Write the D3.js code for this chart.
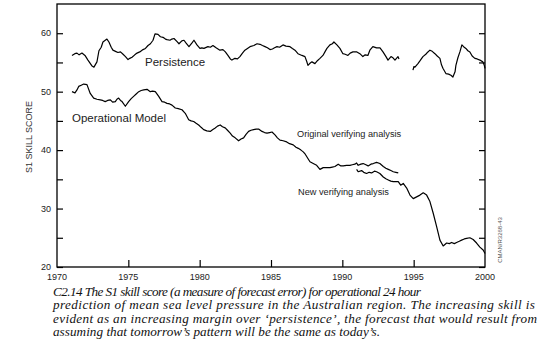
<!DOCTYPE html>
<html><head><meta charset="utf-8">
<script src="https://cdn.jsdelivr.net/npm/d3@7"></script>
<style>
html,body{margin:0;padding:0;background:#fff;}
svg{display:block;}
</style></head>
<body>
<script>
// ---------- data ----------
const xTickYears = [1970, 1975, 1980, 1985, 1990, 1995, 2000];
const yTickLabels = [20, 30, 40, 50, 60];
const yTickAll = [20, 25, 30, 35, 40, 45, 50, 55, 60];

const persistenceA = [
[1971.05,56.2],[1971.25,56.5],[1971.40,56.6],[1971.55,56.3],[1971.75,56.6],[1971.96,56.2],[1972.17,55.4],[1972.45,54.4],[1972.59,54.2],[1972.80,55.1],[1972.94,57.0],[1973.10,57.6],[1973.22,58.5],[1973.50,59.0],[1973.64,58.5],[1973.80,57.6],[1973.92,57.1],[1974.10,56.9],[1974.27,56.7],[1974.45,56.8],[1974.63,56.4],[1974.80,56.0],[1974.98,55.5],[1975.10,55.7],[1975.26,55.9],[1975.45,56.3],[1975.61,56.6],[1975.80,56.8],[1976.03,57.2],[1976.20,57.4],[1976.38,57.9],[1976.55,58.2],[1976.73,58.8],[1976.87,59.9],[1977.08,59.8],[1977.25,59.4],[1977.43,59.3],[1977.60,59.0],[1977.71,58.9],[1977.92,58.8],[1978.05,59.0],[1978.20,59.1],[1978.40,58.6],[1978.55,58.2],[1978.75,58.7],[1978.90,58.8],[1979.05,58.3],[1979.25,57.7],[1979.45,58.3],[1979.60,58.8],[1979.81,58.0],[1980.02,57.4],[1980.15,57.5],[1980.30,57.4],[1980.58,57.7],[1980.75,57.6],[1980.93,57.9],[1981.15,57.5],[1981.42,57.1],[1981.63,57.2],[1981.80,56.8],[1981.98,56.2],[1982.15,55.6],[1982.26,55.4],[1982.47,55.7],[1982.65,55.6],[1982.82,56.0],[1983.00,56.6],[1983.17,57.1],[1983.35,57.4],[1983.53,57.7],[1983.80,57.9],[1984.02,58.2],[1984.23,58.1],[1984.40,57.9],[1984.58,57.7],[1984.75,57.5],[1984.93,57.2],[1985.10,57.3],[1985.25,57.5],[1985.42,57.7],[1985.60,57.6],[1985.84,58.0],[1986.05,57.8],[1986.33,57.7],[1986.50,57.4],[1986.68,57.1],[1986.89,56.5],[1987.17,56.2],[1987.38,56.0],[1987.50,55.2],[1987.59,54.5],[1987.75,54.9],[1987.87,55.1],[1988.08,54.8],[1988.25,55.3],[1988.43,55.7],[1988.64,56.2],[1988.80,56.9],[1988.92,57.4],[1989.13,58.0],[1989.30,58.2],[1989.41,58.5],[1989.62,58.0],[1989.83,57.4],[1990.04,56.5],[1990.20,56.4],[1990.39,56.2],[1990.55,56.6],[1990.74,56.8],[1991.02,56.8],[1991.23,56.5],[1991.44,56.0],[1991.60,56.3],[1991.79,56.2],[1991.93,57.1],[1992.14,57.7],[1992.40,57.5],[1992.64,57.5],[1992.85,56.8],[1993.06,56.0],[1993.20,55.4],[1993.41,56.0],[1993.55,55.8],[1993.69,55.4],[1993.90,56.0],[1993.97,55.6]
];
const persistenceB = [
[1994.95,53.7],[1995.02,54.3],[1995.09,54.2],[1995.30,54.8],[1995.45,55.3],[1995.65,56.0],[1995.85,56.4],[1996.00,56.8],[1996.14,57.1],[1996.30,56.9],[1996.49,56.5],[1996.65,56.1],[1996.84,55.7],[1996.95,54.6],[1997.05,54.0],[1997.26,53.1],[1997.45,53.0],[1997.61,52.8],[1997.75,52.5],[1997.90,53.4],[1997.96,54.5],[1998.10,55.8],[1998.24,56.8],[1998.38,58.0],[1998.50,57.7],[1998.66,57.4],[1998.80,57.0],[1998.94,56.8],[1999.10,56.1],[1999.29,55.7],[1999.45,55.6],[1999.64,55.4],[1999.85,55.1],[1999.95,54.5],[2000.00,54.0]
];
const modelOriginal = [
[1971.05,50.0],[1971.26,49.8],[1971.40,50.3],[1971.52,50.9],[1971.70,51.1],[1971.87,51.3],[1972.10,51.2],[1972.33,49.7],[1972.57,48.9],[1972.80,48.7],[1973.03,48.6],[1973.20,48.5],[1973.38,48.3],[1973.55,48.5],[1973.74,48.6],[1973.90,48.2],[1974.09,48.3],[1974.20,48.7],[1974.32,48.9],[1974.45,48.5],[1974.56,48.3],[1974.79,47.5],[1975.02,48.3],[1975.20,48.8],[1975.37,49.2],[1975.55,49.6],[1975.73,50.0],[1975.90,50.2],[1976.08,50.3],[1976.31,50.4],[1976.54,50.0],[1976.70,50.1],[1976.89,50.0],[1977.13,49.2],[1977.36,48.3],[1977.55,48.2],[1977.71,48.0],[1977.90,47.9],[1978.06,47.7],[1978.29,47.2],[1978.50,47.1],[1978.76,46.9],[1978.99,46.3],[1979.23,45.2],[1979.40,45.0],[1979.58,44.9],[1979.75,44.6],[1979.93,44.3],[1980.10,43.9],[1980.28,43.5],[1980.50,43.3],[1980.74,43.2],[1980.90,43.5],[1981.09,43.8],[1981.25,44.1],[1981.44,44.3],[1981.60,44.0],[1981.79,43.8],[1981.95,43.4],[1982.14,42.9],[1982.30,42.4],[1982.49,42.1],[1982.73,41.6],[1982.90,41.9],[1983.08,42.1],[1983.25,42.7],[1983.43,43.2],[1983.60,43.4],[1983.78,43.5],[1983.95,43.6],[1984.13,43.6],[1984.37,43.2],[1984.55,43.0],[1984.72,42.9],[1984.90,43.0],[1985.07,43.1],[1985.28,42.6],[1985.45,42.1],[1985.63,41.7],[1985.85,41.6],[1986.10,41.4],[1986.30,41.1],[1986.56,40.9],[1986.75,40.5],[1986.91,40.3],[1987.10,40.0],[1987.26,39.7],[1987.40,39.3],[1987.50,38.9],[1987.73,38.0],[1987.96,37.7],[1988.20,37.4],[1988.43,36.7],[1988.66,37.0],[1988.90,37.0],[1989.13,37.0],[1989.30,37.1],[1989.48,37.2],[1989.71,37.6],[1989.90,37.3],[1990.06,37.3],[1990.30,37.4],[1990.53,37.4],[1990.70,37.5],[1990.88,37.6],[1991.00,37.8],[1991.11,37.4],[1991.30,37.6],[1991.46,37.7],[1991.65,37.5],[1991.81,37.3],[1992.00,37.6],[1992.17,37.7],[1992.40,37.9],[1992.63,37.7],[1992.87,37.2],[1993.05,36.9],[1993.22,36.7],[1993.40,36.5],[1993.57,36.3],[1993.75,36.2],[1993.92,36.1]
];
const modelNew = [
[1991.00,36.7],[1991.11,36.3],[1991.35,36.5],[1991.50,36.2],[1991.70,36.0],[1991.88,36.2],[1992.05,36.1],[1992.25,36.4],[1992.40,36.3],[1992.63,36.0],[1992.87,35.4],[1993.05,35.1],[1993.22,34.9],[1993.40,34.7],[1993.57,34.6],[1993.75,34.6],[1993.92,34.6],[1994.09,34.0],[1994.27,34.3],[1994.51,33.5],[1994.74,32.3],[1994.97,31.7],[1995.21,32.0],[1995.44,32.3],[1995.67,32.7],[1995.91,32.3],[1996.14,31.2],[1996.37,29.2],[1996.61,26.9],[1996.84,24.6],[1997.07,23.6],[1997.31,24.1],[1997.50,24.0],[1997.66,24.2],[1997.85,24.0],[1998.01,24.2],[1998.20,24.4],[1998.36,24.6],[1998.55,24.8],[1998.71,24.9],[1998.94,25.0],[1999.17,24.7],[1999.41,24.1],[1999.64,23.4],[1999.87,22.9],[2000.00,22.3]
];

const captionLines = [
"C2.14 The S1 skill score (a measure of forecast error) for operational 24 hour",
"prediction of mean sea level pressure in the Australian region. The increasing skill is",
"evident as an increasing margin over \u2018persistence\u2019, the forecast that would result from",
"assuming that tomorrow\u2019s pattern will be the same as today\u2019s."
];
const captionWidths = [368, 482, 484, 327];

// ---------- chart ----------
const W = 542, H = 356;
const L = 57, R = 485, T = 4, B = 267;
const svg = d3.select("body").append("svg").attr("width", W).attr("height", H);

const x = d3.scaleLinear().domain([1970, 2000]).range([L, R]);
const y = d3.scaleLinear().domain([20, 65]).range([B, T]);

const sans = "'Liberation Sans', Arial, Helvetica, sans-serif";
const tickColor = "#222";

// frame
svg.append("rect").attr("x", L).attr("y", T).attr("width", R - L).attr("height", B - T)
  .attr("fill", "none").attr("stroke", "#000").attr("stroke-width", 1.3);

// left axis (ticks inward)
const yLeft = d3.axisRight(y).tickValues(yTickAll).tickSize(6).tickFormat("");
const gl = svg.append("g").attr("transform", `translate(${L},0)`).call(yLeft);
gl.select(".domain").remove();
gl.selectAll("line").attr("stroke", "#000").attr("stroke-width", 1.2);

// right axis (ticks inward)
const yRight = d3.axisLeft(y).tickValues(yTickAll).tickSize(6).tickFormat("");
const gr = svg.append("g").attr("transform", `translate(${R},0)`).call(yRight);
gr.select(".domain").remove();
gr.selectAll("line").attr("stroke", "#000").attr("stroke-width", 1.2);

// y labels
svg.append("g").selectAll("text").data(yTickLabels).join("text")
  .attr("x", L - 6).attr("y", d => y(d)).attr("dy", "0.35em")
  .attr("text-anchor", "end").attr("font-family", sans).attr("font-size", 9)
  .attr("fill", tickColor).text(d => d);

// bottom axis (ticks inward)
const xAx = d3.axisTop(x).tickValues(xTickYears.slice(1, -1)).tickSize(7).tickFormat("");
const gx = svg.append("g").attr("transform", `translate(0,${B})`).call(xAx);
gx.select(".domain").remove();
gx.selectAll("line").attr("stroke", "#000").attr("stroke-width", 1.2);

svg.append("g").selectAll("text").data(xTickYears).join("text")
  .attr("x", d => x(d)).attr("y", B + 13)
  .attr("text-anchor", "middle").attr("font-family", sans).attr("font-size", 9)
  .attr("fill", tickColor).text(d => d);

// axis title
svg.append("text").attr("transform", `translate(32,137) rotate(-90)`)
  .attr("text-anchor", "middle").attr("font-family", sans).attr("font-size", 9)
  .attr("fill", "#333").text("S1 SKILL SCORE");

// lines
const line = d3.line().x(d => x(d[0])).y(d => y(d[1]));
[persistenceA, persistenceB, modelOriginal, modelNew].forEach(s => {
  svg.append("path").datum(s).attr("d", line).attr("fill", "none")
    .attr("stroke", "#000").attr("stroke-width", 1.2).attr("stroke-linejoin", "round");
});

// annotations
svg.append("text").attr("x", 145).attr("y", 66).attr("font-family", sans).attr("font-size", 11.5)
  .attr("fill", "#222").text("Persistence");
svg.append("text").attr("x", 72).attr("y", 122).attr("font-family", sans).attr("font-size", 11.5)
  .attr("fill", "#222").text("Operational Model");
svg.append("text").attr("x", 297).attr("y", 137).attr("font-family", sans).attr("font-size", 9.2)
  .attr("fill", "#222").text("Original verifying analysis");
svg.append("text").attr("x", 298).attr("y", 195).attr("font-family", sans).attr("font-size", 9.2)
  .attr("fill", "#222").text("New verifying analysis");

svg.append("text").attr("transform", `translate(502,240) rotate(-90)`)
  .attr("text-anchor", "middle").attr("font-family", sans).attr("font-size", 6)
  .attr("fill", "#555").text("CMAN/R3268-43");

// caption: glyphs widened a little, remaining width taken up by spacing
const serif = "'Liberation Serif', 'Times New Roman', serif";
const sx = 1.1;
const cap = svg.append("g").attr("transform", `translate(53,0) scale(${sx},1)`);
cap.selectAll("text").data(captionLines).join("text")
  .attr("x", 0).attr("y", (d, i) => 296 + i * 13.4)
  .attr("font-family", serif).attr("font-style", "italic").attr("font-size", 12)
  .attr("fill", "#111")
  .attr("textLength", (d, i) => captionWidths[i] / sx).attr("lengthAdjust", "spacing")
  .text(d => d);
</script>
</body></html>
